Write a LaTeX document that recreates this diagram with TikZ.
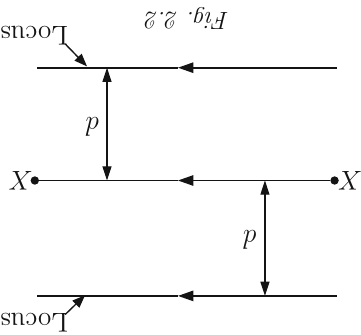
\documentclass[tikz,border=0pt]{standalone}
\usepackage{tikz}
\usetikzlibrary{arrows.meta,positioning}
\definecolor{lcink}{RGB}{20,20,20}
\tikzset{
  locline/.style={draw=lcink, line width=0.8pt},
  flow/.style={locline, -{Triangle[length=2.4mm,width=1.6mm]}},
  gap/.style={draw=lcink, line width=0.5pt,
    {Triangle[length=2.2mm,width=1.4mm]}-{Triangle[length=2.2mm,width=1.4mm]}},
  tag/.style={-{Triangle[length=2.0mm,width=1.5mm]}, draw=lcink, line width=0.6pt},
  pt/.style={circle, fill=lcink, inner sep=0pt, minimum size=1.3mm},
  flip/.style={rotate=180, inner sep=1pt, text=lcink},
  every picture/.append style={line join=round}
}
\begin{document}
\begin{tikzpicture}[x=1cm,y=1cm]
  \useasboundingbox (0,0) rectangle (5.60,5.19);

  % three loci (upside down)
  \coordinate (ta) at (5.22,4.14);
  \coordinate (tm) at (2.76,4.14);
  \coordinate (tb) at (0.57,4.14);
  \node[pt] (xr) at (5.19,2.39) {};
  \coordinate (mm) at (2.76,2.39);
  \node[pt] (xl) at (0.54,2.39) {};
  \coordinate (ba) at (5.22,0.60);
  \coordinate (bm) at (2.76,0.60);
  \coordinate (bb) at (0.57,0.60);

  \draw[flow] (ta) -- (tm);
  \draw[locline] (tm) -- (tb);
  \draw[flow] (xr) -- (mm);
  \draw[locline] (mm) -- (xl);
  \draw[flow] (ba) -- (bm);
  \draw[locline] (bm) -- (bb);

  \node[flip, font=\large] (xlab) at (5.42,2.39) {$X$};
  \node[flip, font=\large] (ylab) at (0.31,2.39) {$X$};

  % separations
  \coordinate (g1a) at (1.66,4.14);
  \coordinate (g1b) at (1.66,2.39);
  \coordinate (g2a) at (4.11,2.39);
  \coordinate (g2b) at (4.11,0.60);
  \draw[gap] (g1a) -- (g1b);
  \draw[gap] (g2a) -- (g2b);
  \node[flip, font=\large] (d1) at (1.44,3.22) {$d$};
  \node[flip, font=\large] (d2) at (3.88,1.47) {$d$};

  % labels
  \node[flip, font=\large] (loc1) at (0.53,4.64) {Locus};
  \node[flip, font=\large] (loc2) at (0.53,0.18) {Locus};
  \coordinate (l1s) at (1.01,4.51);
  \coordinate (l1) at (1.35,4.16);
  \coordinate (l2s) at (1.01,0.31);
  \coordinate (l2) at (1.32,0.61);
  \draw[tag] (l1s) -- (l1);
  \draw[tag] (l2s) -- (l2);

  \node[flip, font=\fontsize{11}{13}\selectfont\itshape] (cap) at (2.91,4.91) {Fig.\ 2.2};
\end{tikzpicture}
\end{document}
